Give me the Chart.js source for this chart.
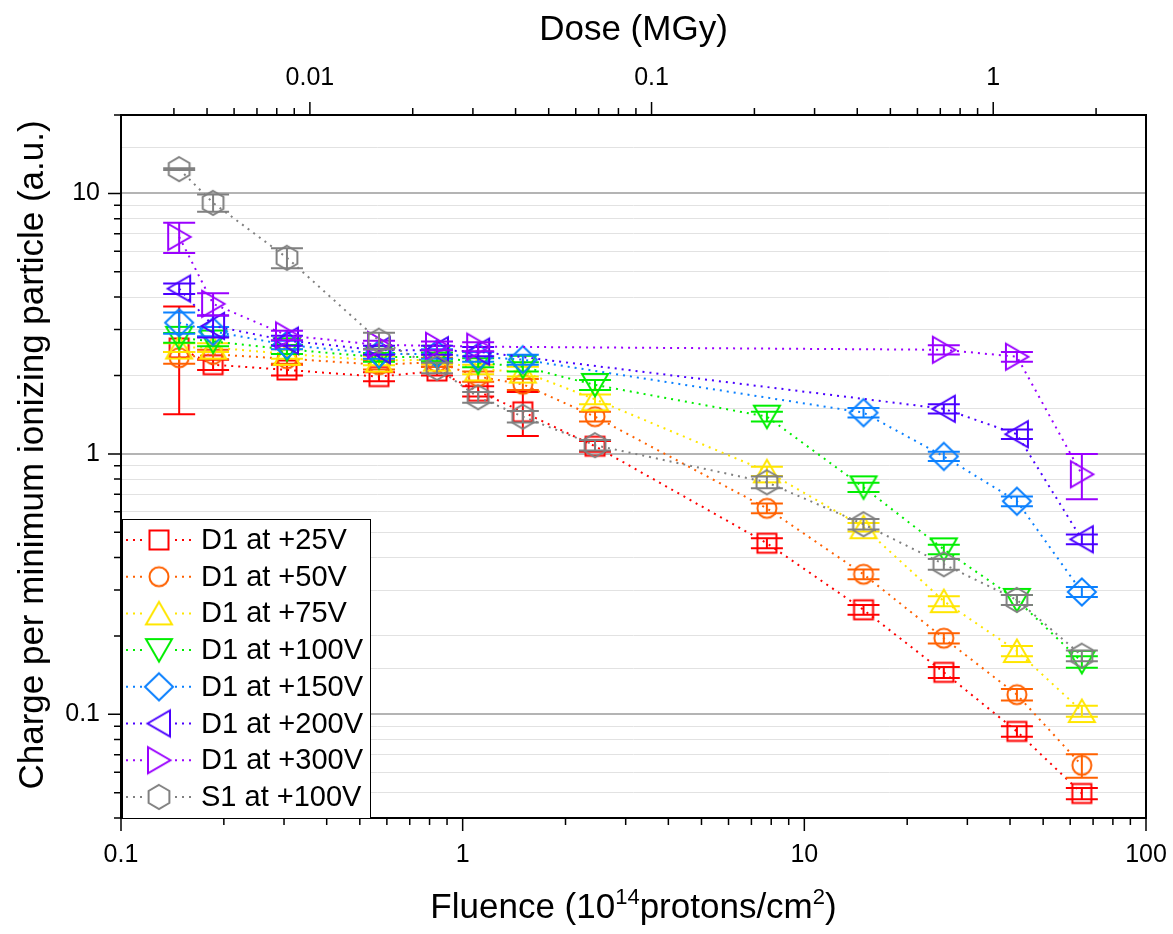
<!DOCTYPE html>
<html lang="en">
<head>
<meta charset="UTF-8">
<title>Charge vs fluence</title>
<script src="https://cdn.jsdelivr.net/npm/chart.js"></script>
<style>
    body { margin: 0; background: #fff; }
    .container { width: 1173px; height: 934px; }
</style>
</head>
<body>
<div class="container"><canvas id="chargeChart"></canvas></div>
<script>
// fluence points, 1e14 protons/cm2
const fluence = [0.148, 0.186, 0.306, 0.569, 0.841, 1.11, 1.50, 2.44, 7.77, 14.9, 25.6, 41.9, 64.9];
// MGy per 1e14 protons/cm2 (top axis)
const doseFactor = 0.028;

const seriesLabels = ['D1 at +25V', 'D1 at +50V', 'D1 at +75V', 'D1 at +100V',
                      'D1 at +150V', 'D1 at +200V', 'D1 at +300V', 'S1 at +100V'];
const seriesColors = ['#ff0000', '#ff6100', '#ffe600', '#00ee00',
                      '#0a80ff', '#4a00ff', '#9a00ff', '#808080'];
const seriesShapes = ['square', 'circle', 'up', 'down', 'diamond', 'left', 'right', 'hexagon'];

// charge per MIP (a.u.), null = no measurement at that fluence
const d1At25 = [2.55, 2.2, 2.1, 1.98, 2.08, 1.74, 1.45, 1.07, 0.454, 0.252, 0.145, 0.086, 0.0497];
const d1At50 = [2.34, 2.41, 2.32, 2.2, 2.25, 1.98, 1.85, 1.39, 0.618, 0.345, 0.196, 0.119, 0.0637];
const d1At75 = [2.56, 2.56, 2.42, 2.28, 2.3, 2.11, 2.07, 1.62, 0.857, 0.523, 0.272, 0.175, 0.103];
const d1At100 = [2.79, 2.7, 2.52, 2.35, 2.36, 2.24, 2.16, 1.84, 1.39, 0.744, 0.43, 0.275, 0.159];
const d1At150 = [3.19, 2.95, 2.62, 2.42, 2.42, 2.36, 2.30, null, null, 1.44, 0.978, 0.658, 0.295];
const d1At200 = [4.31, 3.1, 2.72, 2.5, 2.5, 2.47, null, null, null, null, 1.49, 1.19, 0.47];
const d1At300 = [6.81, 3.77, 2.85, 2.62, 2.6, 2.58, null, null, null, null, 2.51, 2.36, 0.835];
const s1At100 = [12.4, 9.2, 5.66, 2.72, 2.14, 1.65, 1.39, 1.08, 0.778, 0.537, 0.377, 0.275, 0.168];

// error bars
const d1At25Err = [1.13, 0.1, 0.1, 0.08, 0.08, 0.08, 0.28, 0.05, 0.02, 0.011, 0.007, 0.004, 0.0025];
const d1At50Err = [0.12, 0.1, 0.1, 0.09, 0.09, 0.09, 0.09, 0.06, 0.027, 0.015, 0.009, 0.006, 0.0066];
const d1At75Err = [0.1, 0.1, 0.1, 0.09, 0.09, 0.09, 0.09, 0.07, 0.035, 0.02, 0.012, 0.008, 0.005];
const d1At100Err = [0.12, 0.11, 0.1, 0.09, 0.09, 0.09, 0.09, 0.08, 0.06, 0.03, 0.018, 0.012, 0.008];
const d1At150Err = [0.3, 0.12, 0.1, 0.1, 0.1, 0.1, 0.1, null, null, 0.06, 0.04, 0.028, 0.013];
const d1At200Err = [0.2, 0.3, 0.12, 0.1, 0.1, 0.1, null, null, null, null, 0.06, 0.05, 0.02];
const d1At300Err = [0.9, 0.37, 0.12, 0.1, 0.1, 0.1, null, null, null, null, 0.1, 0.1, 0.165];
const s1At100Err = [0.1, 0.7, 0.5, 0.2, 0.1, 0.08, 0.07, 0.05, 0.04, 0.025, 0.018, 0.012, 0.008];

const seriesValues = [d1At25, d1At50, d1At75, d1At100, d1At150, d1At200, d1At300, s1At100];
const seriesErrors = [d1At25Err, d1At50Err, d1At75Err, d1At100Err, d1At150Err, d1At200Err, d1At300Err, s1At100Err];

// labelled ticks
const fluenceTicks = [0.1, 1, 10, 100];
const doseTicks = [0.01, 0.1, 1];
const chargeTicks = [0.1, 1, 10];

const FONT = "'Liberation Sans', Arial, sans-serif";

// hollow marker drawn on a small canvas, used as pointStyle and in the legend
function makeMarker(shape, color) {
    const c = document.createElement('canvas');
    c.width = 36; c.height = 36;
    const g = c.getContext('2d');
    g.strokeStyle = color;
    g.lineWidth = 2;
    g.lineJoin = 'miter';
    g.translate(18, 18);
    g.beginPath();
    const poly = pts => { g.moveTo(pts[0][0], pts[0][1]); pts.slice(1).forEach(p => g.lineTo(p[0], p[1])); g.closePath(); };
    if (shape === 'square') g.rect(-9.5, -9.5, 19, 19);
    else if (shape === 'circle') g.arc(0, 0, 9.5, 0, Math.PI * 2);
    else if (shape === 'up') poly([[0, -11.5], [13, 11], [-13, 11]]);
    else if (shape === 'down') poly([[0, 11.5], [13, -11], [-13, -11]]);
    else if (shape === 'left') poly([[-11.5, 0], [11, -13], [11, 13]]);
    else if (shape === 'right') poly([[11.5, 0], [-11, -13], [-11, 13]]);
    else if (shape === 'diamond') poly([[0, -13.5], [14, 0], [0, 13.5], [-14, 0]]);
    else if (shape === 'hexagon') {
        const pts = [];
        for (let k = 0; k < 6; k++) {
            const a = -Math.PI / 2 + k * Math.PI / 3;
            pts.push([Math.cos(a) * 12, Math.sin(a) * 12]);
        }
        poly(pts);
    }
    g.stroke();
    return c;
}

const markers = seriesShapes.map((s, i) => makeMarker(s, seriesColors[i]));

const datasets = seriesLabels.map((label, i) => {
    const points = [];
    fluence.forEach((f, j) => {
        const v = seriesValues[i][j];
        if (v !== null) points.push({ x: f, y: v, err: seriesErrors[i][j] });
    });
    return {
        label: label,
        data: points,
        borderColor: seriesColors[i],
        backgroundColor: 'transparent',
        borderWidth: 2,
        borderDash: [2, 5],
        pointStyle: markers[i],
        pointRadius: 11,
        pointHoverRadius: 11,
        fill: false,
        order: 7 - i
    };
});

function isDecade(v) {
    const e = Math.log10(v);
    return Math.abs(e - Math.round(e)) < 1e-6;
}
function wholeMantissa(v) {
    const e = Math.floor(Math.log10(v) + 1e-9);
    const m = v / Math.pow(10, e);
    return Math.abs(m - Math.round(m)) < 1e-6;
}
function labelFrom(list) {
    return function (value) {
        const hit = list.find(t => Math.abs(Math.log10(t) - Math.log10(value)) < 1e-6);
        return hit === undefined ? '' : String(hit);
    };
}

// error bars after each dataset
const errorBars = {
    id: 'errorBars',
    afterDatasetDraw(chart, args) {
        const ctx = chart.ctx;
        const ds = chart.data.datasets[args.index];
        const yScale = chart.scales.y;
        const area = chart.chartArea;
        ctx.save();
        ctx.beginPath();
        ctx.rect(area.left, area.top, area.right - area.left, area.bottom - area.top);
        ctx.clip();
        ctx.strokeStyle = ds.borderColor;
        ctx.lineWidth = 2;
        args.meta.data.forEach((pt, k) => {
            const d = ds.data[k];
            if (!d.err) return;
            const yTop = yScale.getPixelForValue(d.y + d.err);
            const yBot = yScale.getPixelForValue(Math.max(d.y - d.err, 1e-4));
            ctx.beginPath();
            ctx.moveTo(pt.x, yTop); ctx.lineTo(pt.x, yBot);
            ctx.moveTo(pt.x - 16, yTop); ctx.lineTo(pt.x + 16, yTop);
            ctx.moveTo(pt.x - 16, yBot); ctx.lineTo(pt.x + 16, yBot);
            ctx.stroke();
        });
        ctx.restore();
    }
};

// plot frame plus major/minor tick marks
const frameTicks = {
    id: 'frameTicks',
    beforeDatasetsDraw(chart) {
        const ctx = chart.ctx;
        const a = chart.chartArea;
        ctx.save();
        ctx.strokeStyle = '#000';
        ctx.lineWidth = 2;
        ctx.strokeRect(a.left, a.top, a.right - a.left, a.bottom - a.top);
        ctx.lineWidth = 1.5;
        ctx.beginPath();
        const sx = chart.scales.x, sx2 = chart.scales.x2, sy = chart.scales.y;
        sx.ticks.forEach(t => {
            if (!wholeMantissa(t.value)) return;
            const p = sx.getPixelForValue(t.value);
            const len = isDecade(t.value) ? 13 : 7;
            ctx.moveTo(p, a.bottom); ctx.lineTo(p, a.bottom + len);
        });
        sx2.ticks.forEach(t => {
            if (!wholeMantissa(t.value)) return;
            const p = sx2.getPixelForValue(t.value);
            const len = isDecade(t.value) ? 13 : 7;
            ctx.moveTo(p, a.top); ctx.lineTo(p, a.top - len);
        });
        sy.ticks.forEach(t => {
            if (!wholeMantissa(t.value)) return;
            const p = sy.getPixelForValue(t.value);
            const len = isDecade(t.value) ? 13 : 7;
            ctx.moveTo(a.left, p); ctx.lineTo(a.left - len, p);
        });
        ctx.stroke();
        ctx.restore();
    }
};

// boxed legend in lower left, x title with superscripts, y title
const legendAndTitle = {
    id: 'legendAndTitle',
    afterDraw(chart) {
        const ctx = chart.ctx;
        const a = chart.chartArea;
        ctx.save();
        const boxL = a.left + 1, boxT = 519, boxR = 370;
        ctx.fillStyle = '#fff';
        ctx.fillRect(boxL, boxT, boxR - boxL, a.bottom - boxT);
        ctx.strokeStyle = '#000';
        ctx.lineWidth = 1;
        ctx.strokeRect(boxL + 0.5, boxT + 0.5, boxR - boxL, a.bottom - boxT);
        ctx.font = '29px ' + FONT;
        ctx.textBaseline = 'middle';
        seriesLabels.forEach((label, i) => {
            const y = 540 + i * 36.7;
            ctx.strokeStyle = seriesColors[i];
            ctx.lineWidth = 2;
            ctx.setLineDash([2, 5]);
            ctx.beginPath();
            ctx.moveTo(126, y); ctx.lineTo(192, y);
            ctx.stroke();
            ctx.setLineDash([]);
            ctx.fillStyle = '#fff';
            ctx.fillRect(145, y - 14, 28, 28);
            ctx.drawImage(markers[i], 159 - 18, y - 18);
            ctx.fillStyle = '#000';
            ctx.fillText(label, 201, y + 1);
        });

        // Fluence (10^14 protons/cm^2)
        const parts = [
            ['Fluence (10', false], ['14', true], ['protons/cm', false], ['2', true], [')', false]
        ];
        const big = '35px ' + FONT, small = '22px ' + FONT;
        let total = 0;
        parts.forEach(p => { ctx.font = p[1] ? small : big; total += ctx.measureText(p[0]).width; });
        let x = (a.left + a.right) / 2 - total / 2;
        const base = 918;
        ctx.textBaseline = 'alphabetic';
        ctx.fillStyle = '#000';
        parts.forEach(p => {
            ctx.font = p[1] ? small : big;
            ctx.fillText(p[0], x, p[1] ? base - 14 : base);
            x += ctx.measureText(p[0]).width;
        });

        // y title, centred a little above the plot middle as in the original
        ctx.font = '35px ' + FONT;
        ctx.textAlign = 'center';
        ctx.textBaseline = 'middle';
        ctx.translate(33, 455);
        ctx.rotate(-Math.PI / 2);
        ctx.fillText('Charge per minimum ionizing particle (a.u.)', 0, 0);
        ctx.restore();
    }
};

// drop the label overhang padding so the plot box spans the same width as the original
function noSidePad(s) { s.paddingLeft = 0; s.paddingRight = 0; }

const ctx = document.getElementById('chargeChart').getContext('2d');
const chargeChart = new Chart(ctx, {
    type: 'line',
    data: { datasets: datasets },
    plugins: [frameTicks, errorBars, legendAndTitle],
    options: {
        responsive: true,
        maintainAspectRatio: false,
        animation: false,
        layout: { padding: { left: 0, right: 27, top: 0, bottom: 0 } },
        plugins: { legend: { display: false }, tooltip: { enabled: false } },
        scales: {
            x: {
                type: 'logarithmic',
                position: 'bottom',
                min: 0.1, max: 100,
                grid: { display: false, drawTicks: false },
                border: { display: false },
                ticks: {
                    autoSkip: false, maxRotation: 0, padding: 22,
                    color: '#000', font: { size: 25, family: FONT },
                    callback: labelFrom(fluenceTicks)
                },
                afterFit: s => { s.height = 116; noSidePad(s); }
            },
            x2: {
                type: 'logarithmic',
                axis: 'x',
                position: 'top',
                min: 0.1 * doseFactor, max: 100 * doseFactor,
                grid: { display: false, drawTicks: false },
                border: { display: false },
                ticks: {
                    autoSkip: false, maxRotation: 0, padding: 22,
                    color: '#000', font: { size: 25, family: FONT },
                    callback: labelFrom(doseTicks)
                },
                title: {
                    display: true, text: 'Dose (MGy)', color: '#000',
                    font: { size: 35, family: FONT }, padding: { top: 9, bottom: 0 }
                },
                afterFit: s => { s.height = 115; noSidePad(s); }
            },
            y: {
                type: 'logarithmic',
                position: 'left',
                min: 0.04, max: 20,
                grid: {
                    drawTicks: false,
                    color: c => isDecade(c.tick.value) ? '#b4b4b4' : '#e2e2e2',
                    lineWidth: c => isDecade(c.tick.value) ? 2 : 1
                },
                border: { display: false },
                ticks: {
                    autoSkip: false, padding: 21,
                    color: '#000', font: { size: 25, family: FONT },
                    callback: labelFrom(chargeTicks)
                },
                afterFit: s => { s.width = 121; s.paddingTop = 0; s.paddingBottom = 0; }
            }
        }
    }
});
</script>
</body>
</html>
